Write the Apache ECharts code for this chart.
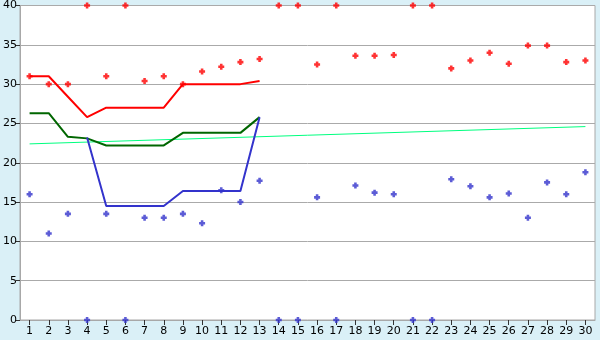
<!DOCTYPE html>
<html><head><meta charset="utf-8">
<script src="https://cdn.jsdelivr.net/npm/echarts@6/dist/echarts.min.js"></script>
<style>html,body{margin:0;padding:0;background:#daf0f7}#c{width:600px;height:340px}</style>
</head><body><div id="c"></div>
<script>
var categories = ['1','2','3','4','5','6','7','8','9','10','11','12','13','14','15','16','17','18','19','20','21','22','23','24','25','26','27','28','29','30'];
var highPoints = [31,30,30,40,31,40,30.4,31,30,31.6,32.2,32.8,33.2,40,40,32.5,40,33.6,33.6,33.7,40,40,32,33,34,32.6,34.9,34.9,32.8,33];
var lowPoints = [16,11,13.5,0,13.5,0,13,13,13.5,12.3,16.5,15,17.7,0,0,15.6,0,17.1,16.2,16,0,0,17.9,17,15.6,16.1,13,17.5,16,18.8];
var redLine = [31,31,28.4,25.8,27,27,27,27,30,30,30,30,30.4,null,null,null,null,null,null,null,null,null,null,null,null,null,null,null,null,null];
var greenLine = [26.3,26.3,23.3,23.1,22.2,22.2,22.2,22.2,23.8,23.8,23.8,23.8,25.8,null,null,null,null,null,null,null,null,null,null,null,null,null,null,null,null,null];
var blueLine = [null,null,null,23.2,14.5,14.5,14.5,14.5,16.4,16.4,16.4,16.4,25.8,null,null,null,null,null,null,null,null,null,null,null,null,null,null,null,null,null];
var trendLine = [22.4,null,null,null,null,null,null,null,null,null,null,null,null,null,null,null,null,null,null,null,null,null,null,null,null,null,null,null,null,24.6];
var yTicks = {min:0, max:40, interval:5};

var marker = 'path://M2,0H5V2H7V5H5V7H2V5H0V2H2Z';
var chart = echarts.init(document.getElementById('c'));
var font = {fontFamily:'DejaVu Sans', fontSize:11, color:'#000'};
chart.setOption({
  animation:false,
  backgroundColor:'#daf0f7',
  grid:{left:20, right:5, top:5, bottom:20, show:true, backgroundColor:'#fff', borderColor:'#a8a8a8', borderWidth:1},
  xAxis:{type:'category', data:categories, boundaryGap:true,
    axisLine:{show:true, lineStyle:{color:'#a8a8a8'}},
    axisTick:{show:true, alignWithLabel:true, length:5, lineStyle:{color:'#333'}},
    axisLabel:Object.assign({margin:6, interval:0}, font),
    splitLine:{show:false}},
  yAxis:{type:'value', min:yTicks.min, max:yTicks.max, interval:yTicks.interval,
    axisLine:{show:true, lineStyle:{color:'#a8a8a8'}},
    axisTick:{show:true, length:4, lineStyle:{color:'#333'}},
    axisLabel:Object.assign({margin:3}, font),
    splitLine:{show:true, lineStyle:{color:'#aaa', width:1}}},
  series:[
    {type:'line', data:trendLine, connectNulls:true, showSymbol:false, lineStyle:{color:'#00ff7f', width:1}, itemStyle:{color:'#00ff7f'}, z:1},
    {type:'line', data:greenLine, showSymbol:false, lineStyle:{color:'#006600', width:2}, itemStyle:{color:'#006600'}, z:2},
    {type:'line', data:blueLine, showSymbol:false, lineStyle:{color:'#3333cc', width:2}, itemStyle:{color:'#3333cc'}, z:3},
    {type:'line', data:redLine, showSymbol:false, lineStyle:{color:'#ff0000', width:2}, itemStyle:{color:'#ff0000'}, z:4},
    {type:'scatter', data:highPoints, symbol:marker, symbolSize:6, itemStyle:{color:'#ff0000'}, z:5},
    {type:'scatter', data:lowPoints, symbol:marker, symbolSize:6, itemStyle:{color:'#3333cc'}, z:5}
  ]
});
</script></body></html>
